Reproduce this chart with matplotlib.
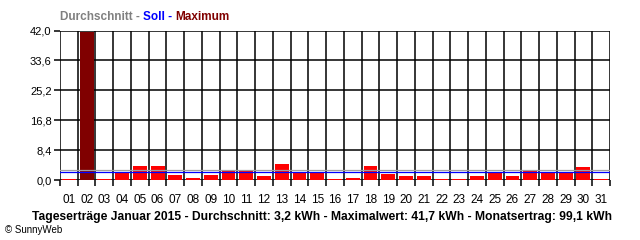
import matplotlib
matplotlib.use("Agg")
import matplotlib.pyplot as plt
from matplotlib.ticker import FixedLocator, NullFormatter

days = [f"{d:02d}" for d in range(1, 32)]
values = [0.4, 41.7, 0.4, 2.3, 3.9, 3.9, 1.3, 0.7, 1.3, 2.9, 2.9, 1.0, 4.4, 2.3, 2.3,
          0.4, 0.7, 3.9, 1.6, 1.0, 1.0, 0.4, 0.4, 1.0, 2.3, 1.0, 2.9, 2.3, 2.3, 3.6, 0.4]
average_line = 2.8
target_line = 2.2
yticks = [0.0, 8.4, 16.8, 25.2, 33.6, 42.0]
ytick_labels = ["0,0", "8,4", "16,8", "25,2", "33,6", "42,0"]
footer = "Tageserträge Januar 2015 - Durchschnitt: 3,2 kWh - Maximalwert: 41,7 kWh - Monatsertrag: 99,1 kWh"
title_parts = [("Durchschnitt - ", "#808080"), ("Soll - ", "#0000ff"), ("Maximum", "#800000")]

plt.rcParams['font.family'] = ['Liberation Sans', 'DejaVu Sans']

W, H = 640, 240
fig = plt.figure(figsize=(W / 100, H / 100), dpi=100)
fig.patch.set_facecolor("white")
ax = fig.add_axes([60 / W, 60 / H, 550 / W, 149.5 / H])

x = list(range(1, 32))
maxv = max(values)
colors = ["#800000" if v == maxv else "#ff0000" for v in values]
ax.bar(x, values, width=0.78, color=colors, zorder=3)

ax.set_xlim(0.5, 31.5)
ax.set_ylim(0, 42.0)

# grid
for yv in yticks:
    ax.axhline(yv, color="black", lw=1.1, zorder=1)
for k in range(32):
    ax.axvline(0.5 + k, color="black", lw=1.1, zorder=1)

ax.axhline(average_line, color="#a0a0a0", lw=0.9, zorder=4)
ax.axhline(target_line, color="#0000ff", lw=0.9, zorder=4)

ax.set_yticks(yticks)
ax.set_yticklabels(ytick_labels, fontsize=8)
ax.tick_params(axis="y", length=4, width=1.1, pad=2)

ax.set_xticks(x)
ax.set_xticklabels(days, fontsize=8.5)
ax.tick_params(axis="x", which="major", length=0, pad=10)
ax.xaxis.set_minor_locator(FixedLocator([0.5 + k for k in range(32)]))
ax.xaxis.set_minor_formatter(NullFormatter())
ax.tick_params(axis="x", which="minor", length=4, width=1.1, direction="out")

for s in ax.spines.values():
    s.set_visible(False)

# title composed of coloured parts
fig.canvas.draw()
renderer = fig.canvas.get_renderer()
xpos = 60 / W
for txt, col in title_parts:
    t = fig.text(xpos, 1 - 17 / H, txt, color=col, fontsize=8.5, fontweight="bold",
                 va="center", ha="left")
    bb = t.get_window_extent(renderer=renderer)
    xpos += bb.width / W

fig.text(612 / W, 1 - 217 / H, footer, fontsize=8.7, fontweight="bold",
         ha="right", va="center", color="black")
fig.text(5 / W, 1 - 230 / H, "© SunnyWeb", fontsize=7, ha="left", va="center", color="black")

fig.savefig("out.png", dpi=100, facecolor="white")
